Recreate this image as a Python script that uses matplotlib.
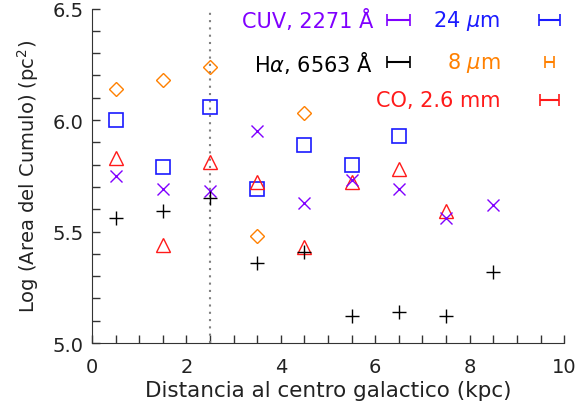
import numpy as np
import matplotlib.pyplot as plt
from matplotlib.ticker import MultipleLocator

# distancias (kpc) de cada anillo
dist = [0.5, 1.5, 2.5, 3.5, 4.5, 5.5, 6.5, 7.5, 8.5]

# log del area del cumulo en cada banda
cuv = [5.75, 5.69, 5.68, 5.95, 5.63, 5.73, 5.69, 5.56, 5.62]
halpha = [5.56, 5.59, 5.65, 5.36, 5.41, 5.12, 5.14, 5.12, 5.32]
mic24 = [6.00, 5.79, 6.06, 5.69, 5.89, 5.80, 5.93]
mic8 = [6.14, 6.18, 6.24, 5.48, 6.03]
co = [5.83, 5.44, 5.81, 5.72, 5.43, 5.72, 5.78, 5.59]

# resolucion espacial de cada banda (semi-ancho, kpc)
res_cuv = 0.25
res_halpha = 0.25
res_24 = 0.22
res_8 = 0.10
res_co = 0.21

c_cuv = '#8000ff'
c_ha = 'black'
c_24 = '#1a1aff'
c_8 = '#ff8000'
c_co = '#ff1a1a'

plt.rcParams['font.family'] = 'DejaVu Sans'

fig = plt.figure(figsize=(5.78, 4.14), dpi=100)
ax = fig.add_axes([0.159, 0.169, 0.817, 0.808])

ax.axvline(2.5, color='gray', ls=(0, (1, 2.5)), lw=1.5)

ax.plot(dist[:len(mic8)], mic8, 'D', ms=7, mfc='none', mec=c_8, mew=1)
ax.plot(dist[:len(mic24)], mic24, 's', ms=10, mfc='none', mec=c_24, mew=1.2)
ax.plot(dist[:len(co)], co, '^', ms=10, mfc='none', mec=c_co, mew=1)
ax.plot(dist, cuv, 'x', ms=9, mec=c_cuv, mew=1)
ax.plot(dist, halpha, '+', ms=10, mec=c_ha, mew=1)

# leyenda: nombre de la banda y barra con su resolucion
fs = 15
ax.text(5.95, 6.45, 'CUV, 2271 Å', color=c_cuv, fontsize=fs, ha='right', va='center')
ax.text(5.95, 6.26, r'H$\alpha$, 6563 Å', color=c_ha, fontsize=fs, ha='right', va='center')
ax.text(8.65, 6.45, r'24 $\mu$m', color=c_24, fontsize=fs, ha='right', va='center')
ax.text(8.65, 6.26, r'8 $\mu$m', color=c_8, fontsize=fs, ha='right', va='center')
ax.text(8.65, 6.09, 'CO, 2.6 mm', color=c_co, fontsize=fs, ha='right', va='center')

kw = dict(fmt='none', capsize=4, elinewidth=1.5, capthick=1.2)
ax.errorbar(6.49, 6.45, xerr=res_cuv, ecolor=c_cuv, **kw)
ax.errorbar(6.49, 6.26, xerr=res_halpha, ecolor=c_ha, **kw)
ax.errorbar(9.69, 6.45, xerr=res_24, ecolor=c_24, **kw)
ax.errorbar(9.69, 6.26, xerr=res_8, ecolor=c_8, **kw)
ax.errorbar(9.69, 6.09, xerr=res_co, ecolor=c_co, **kw)

ax.set_xlim(0, 10)
ax.set_ylim(5.0, 6.5)
ax.xaxis.set_major_locator(MultipleLocator(2))
ax.xaxis.set_minor_locator(MultipleLocator(0.5))
ax.yaxis.set_major_locator(MultipleLocator(0.5))
ax.yaxis.set_minor_locator(MultipleLocator(0.1))
ax.yaxis.set_major_formatter('{x:.1f}')

ax.spines['top'].set_visible(False)
ax.spines['right'].set_visible(False)
for s in ['left', 'bottom']:
    ax.spines[s].set_color('#333333')
ax.tick_params(which='both', direction='in', length=6, width=1, color='#333333',
               labelsize=14, labelcolor='#222222')
ax.tick_params(axis='x', pad=10)
ax.tick_params(axis='y', pad=6)

ax.set_xlabel('Distancia al centro galactico (kpc)', fontsize=15.5, color='#222222', labelpad=3)
ax.set_ylabel(r'Log (Area del Cumulo) (pc$^2$)', fontsize=14, color='#222222', labelpad=8)

fig.savefig('out.png', dpi=100)
